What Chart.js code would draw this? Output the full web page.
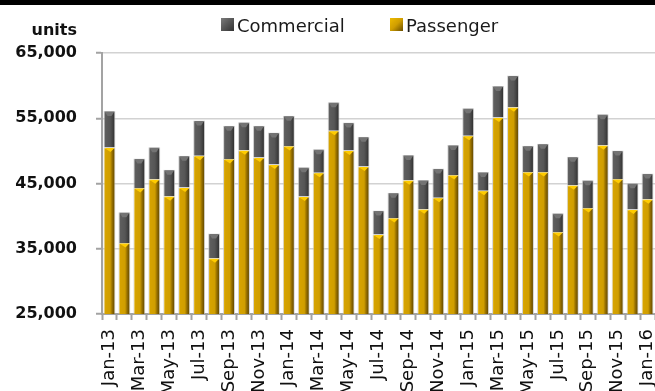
<!DOCTYPE html>
<html>
<head>
<meta charset="utf-8">
<script src="https://cdn.jsdelivr.net/npm/chart.js@4.4.1/dist/chart.umd.min.js"></script>
<style>
  html, body { margin: 0; padding: 0; background: #fff; }
  #topbar { width: 655px; height: 5px; background: #000; }
  #wrap { position: relative; width: 655px; height: 386px; }
</style>
</head>
<body>
<div id="topbar"></div>
<div id="wrap"><canvas id="chart"></canvas></div>
<script>
// Monthly sales, Jan-13 .. Jan-16
const months = [
  'Jan-13', 'Feb-13', 'Mar-13', 'Apr-13', 'May-13', 'Jun-13', 'Jul-13', 'Aug-13', 'Sep-13', 'Oct-13', 'Nov-13', 'Dec-13',
  'Jan-14', 'Feb-14', 'Mar-14', 'Apr-14', 'May-14', 'Jun-14', 'Jul-14', 'Aug-14', 'Sep-14', 'Oct-14', 'Nov-14', 'Dec-14',
  'Jan-15', 'Feb-15', 'Mar-15', 'Apr-15', 'May-15', 'Jun-15', 'Jul-15', 'Aug-15', 'Sep-15', 'Oct-15', 'Nov-15', 'Dec-15',
  'Jan-16'
];

const passenger = [
  50500, 35900, 44300, 45650, 43050, 44400, 49250, 33550, 48750, 50100, 49000, 47900,
  50750, 43000, 46650, 53100, 50050, 47600, 37200, 39700, 45500, 41050, 42800, 46300,
  52300, 43900, 55100, 56700, 46750, 46750, 37550, 44750, 41250, 50850, 45700, 41000,
  42600
];

const commercial = [
  5600, 4700, 4550, 4900, 4050, 4850, 5400, 3800, 5100, 4300, 4850, 4900,
  4650, 4500, 3600, 4350, 4300, 4550, 3650, 3900, 3850, 4500, 4500, 4600,
  4250, 2850, 4850, 4850, 4050, 4350, 2900, 4350, 4250, 4750, 4350, 4050,
  3950
];

const yTicks = [25000, 35000, 45000, 55000, 65000];

const BAR_PCT = 0.8;
const AXIS_GRAY = '#a3a3a3';

// horizontal shading across one bar, built from the x scale
function barShade(ctx, stops) {
  const chart = ctx.chart;
  const xs = chart.scales.x;
  if (!xs || !chart.chartArea) return stops[1][1];
  const cx = xs.getPixelForValue(ctx.dataIndex);
  const half = (xs.width / months.length) * BAR_PCT / 2;
  const g = chart.ctx.createLinearGradient(cx - half, 0, cx + half, 0);
  stops.forEach(s => g.addColorStop(s[0], s[1]));
  return g;
}

const goldStops = [[0, '#eebb00'], [0.15, '#d6a300'], [0.55, '#d09e00'], [0.72, '#977000'], [0.9, '#6a4e00'], [1, '#a88000']];
const grayStops = [[0, '#7c7c7c'], [0.15, '#5e5e5e'], [0.55, '#565656'], [0.75, '#444444'], [0.9, '#333333'], [1, '#555555']];

// little bevel on the top of every segment
const bevelPlugin = {
  id: 'bevel',
  afterDatasetsDraw(chart) {
    const c = chart.ctx;
    c.save();
    chart.data.datasets.forEach((ds, di) => {
      const meta = chart.getDatasetMeta(di);
      meta.data.forEach(bar => {
        const p = bar.getProps(['x', 'y', 'width'], true);
        const l = p.x - p.width / 2 + 1, r = p.x + p.width / 2 - 1;
        c.beginPath();
        if (di === 0) {
          c.moveTo(l, p.y + 0.5);
          c.lineTo(r, p.y + 0.5);
          c.lineTo(p.x + 1, p.y + 4.5);
          c.closePath();
          c.fillStyle = '#ffcc00';
        } else {
          c.moveTo(l, p.y + 0.5);
          c.lineTo(r, p.y + 0.5);
          c.lineTo(r - 3, p.y + 5);
          c.lineTo(l + 3, p.y + 5);
          c.closePath();
          c.fillStyle = '#737373';
        }
        c.fill();
      });
    });
    c.restore();
  }
};

// legend and the "units" caption
const captionPlugin = {
  id: 'caption',
  afterDraw(chart) {
    const c = chart.ctx;
    const ys = chart.scales.y;
    c.save();
    c.font = 'bold 16px "DejaVu Sans"';
    c.fillStyle = '#111';
    c.textAlign = 'right';
    c.textBaseline = 'alphabetic';
    c.fillText('units', ys.right - 25, 30);

    c.font = '18px "DejaVu Sans"';
    c.textAlign = 'left';
    const items = [
      { text: chart.data.datasets[1].label, x: 221, stops: grayStops },
      { text: chart.data.datasets[0].label, x: 390, stops: goldStops }
    ];
    items.forEach(it => {
      const g = c.createLinearGradient(it.x, 13, it.x + 13, 26);
      g.addColorStop(0, it.stops[0][1]);
      g.addColorStop(0.5, it.stops[2][1]);
      g.addColorStop(1, it.stops[4][1]);
      c.fillStyle = g;
      c.fillRect(it.x, 13, 13, 13);
      c.fillStyle = '#1a1a1a';
      c.fillText(it.text, it.x + 16, 27);
    });
    c.restore();
  }
};

new Chart(document.getElementById('chart'), {
  type: 'bar',
  data: {
    labels: months,
    datasets: [
      {
        label: 'Passenger',
        data: passenger,
        backgroundColor: ctx => barShade(ctx, goldStops),
        borderColor: 'rgba(200,200,200,0.8)',
        borderWidth: 1,
        categoryPercentage: 1,
        barPercentage: BAR_PCT
      },
      {
        label: 'Commercial',
        data: commercial,
        backgroundColor: ctx => barShade(ctx, grayStops),
        borderColor: 'rgba(200,200,200,0.8)',
        borderWidth: 1,
        categoryPercentage: 1,
        barPercentage: BAR_PCT
      }
    ]
  },
  options: {
    responsive: true,
    maintainAspectRatio: false,
    animation: false,
    layout: { padding: { top: 48, left: 0, right: 0, bottom: 0 } },
    plugins: {
      legend: { display: false },
      tooltip: { enabled: false }
    },
    scales: {
      x: {
        stacked: true,
        offset: true,
        border: { color: AXIS_GRAY, width: 2 },
        grid: {
          drawOnChartArea: false,
          drawTicks: true,
          tickLength: 6,
          tickColor: AXIS_GRAY,
          tickWidth: 2
        },
        ticks: {
          autoSkip: false,
          minRotation: 90,
          maxRotation: 90,
          padding: 9,
          color: '#111',
          font: { family: '"DejaVu Sans"', size: 18 },
          callback: (v, i) => (i % 2 === 0 ? months[i] : '')
        },
        afterFit: s => {
          s.height = 77;
          s.paddingLeft = 0;
          s.paddingRight = 0;
        }
      },
      y: {
        stacked: true,
        min: yTicks[0],
        max: yTicks[yTicks.length - 1],
        border: { color: AXIS_GRAY, width: 2 },
        grid: {
          color: '#d2d2d2',
          lineWidth: 1.5,
          borderDash: [3, 3],
          tickLength: 6,
          tickColor: AXIS_GRAY,
          tickWidth: 2,
          tickBorderDash: []
        },
        afterBuildTicks: s => { s.ticks = yTicks.map(v => ({ value: v })); },
        ticks: {
          padding: 19,
          color: '#111',
          font: { family: '"DejaVu Sans"', size: 16, weight: 'bold' },
          callback: v => v.toLocaleString('en-US')
        },
        afterFit: s => { s.width = 102; }
      }
    }
  },
  plugins: [bevelPlugin, captionPlugin]
});
</script>
</body>
</html>
